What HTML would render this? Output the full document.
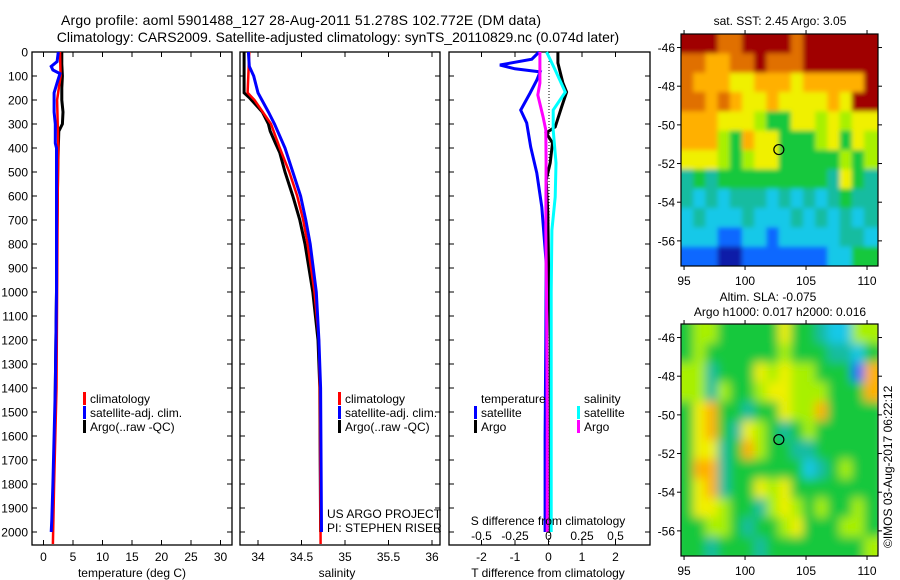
<!DOCTYPE html>
<html><head><meta charset="utf-8"><style>
body{margin:0;background:#fff;}
svg{display:block;font-family:"Liberation Sans",Arial,sans-serif;}
text{fill:#000;}
</style></head><body>
<svg id="fig" width="900" height="580" viewBox="0 0 900 580">
<defs>
<filter id="blurSST" x="-5%" y="-5%" width="110%" height="110%"><feGaussianBlur stdDeviation="2.5"/></filter>
<filter id="blurSLA" x="-5%" y="-5%" width="110%" height="110%"><feGaussianBlur stdDeviation="5"/></filter>
<clipPath id="clipSST"><rect x="681" y="34" width="197" height="232"/></clipPath>
<clipPath id="clipSLA"><rect x="681" y="324" width="197" height="232"/></clipPath>
</defs>
<g>
<text x="61" y="25" font-size="14" textLength="480">Argo profile: aoml 5901488_127 28-Aug-2011 51.278S 102.772E (DM data)</text>
<text x="338" y="42" font-size="14" text-anchor="middle">Climatology: CARS2009. Satellite-adjusted climatology: synTS_20110829.nc (0.074d later)</text>
</g>
<text x="780" y="25" font-size="12" text-anchor="middle">sat. SST: 2.45 Argo: 3.05</text>
<text x="768" y="301" font-size="12" text-anchor="middle">Altim. SLA: -0.075</text>
<text x="780" y="316" font-size="12" text-anchor="middle">Argo h1000: 0.017 h2000: 0.016</text>
<text transform="translate(892,548) rotate(-90)" font-size="12">©IMOS 03-Aug-2017 06:22:12</text>
</svg>
<script>
// ---------- data ----------
const depthTicks = [0,100,200,300,400,500,600,700,800,900,1000,1100,1200,1300,1400,1500,1600,1700,1800,1900,2000];
const tempTicks = [0,5,10,15,20,25,30];
const salTicks = [34,34.5,35,35.5,36];
const tdiffTicks = [-2,-1,0,1,2];
const sdiffTicks = [-0.5,-0.25,0,0.25,0.5];
const sdiffLabels = ["-0.5","-0.25","0","0.25","0.5"];

const tArgoDepth = [0,50,100,150,200,250,300,330,400,500,700,1000,1200,1400,1600,1800,2000];
const tArgoVal   = [3.1,3.1,3.2,3.1,3.1,3.3,3.2,2.6,2.5,2.4,2.3,2.2,2.1,2.0,1.9,1.7,1.5];
const tClimDepth = [0,100,200,300,400,600,1000,1400,1800,2050];
const tClimVal   = [2.8,2.9,2.3,2.4,2.5,2.4,2.3,2.2,1.8,1.6];
const tSatDepth  = [0,40,60,75,90,120,170,250,300,380,400,1000,1400,1800,1950,2000];
const tSatVal    = [2.5,2.3,1.3,1.6,2.8,2.4,1.8,1.8,2.0,2.0,2.2,2.2,2.0,1.6,1.4,1.3];

const sArgoDepth = [0,170,190,250,300,330,380,420,500,600,700,800,1000,1200,1400,2000];
const sArgoVal   = [33.84,33.84,33.9,34.05,34.12,34.14,34.2,34.25,34.31,34.40,34.48,34.54,34.63,34.69,34.71,34.72];
const sClimDepth = [0,170,200,300,400,500,600,700,800,1000,1200,1400,2050];
const sClimVal   = [33.9,33.88,33.96,34.15,34.25,34.36,34.45,34.52,34.57,34.65,34.70,34.71,34.72];
const sSatDepth  = [0,60,100,170,250,300,400,500,600,700,800,1000,1200,1400,2000];
const sSatVal    = [33.89,33.9,33.95,34.0,34.12,34.19,34.31,34.40,34.49,34.55,34.6,34.67,34.70,34.72,34.73];

const dTSatDepth = [0,30,54,70,83,117,171,242,296,396,504,646,880,1200,1600,2000];
const dTSatVal   = [-0.28,-0.5,-1.45,-1.0,-0.25,-0.35,-0.55,-0.83,-0.65,-0.53,-0.35,-0.2,-0.07,-0.08,-0.1,-0.1];
const dTArgoDepth = [0,46,129,167,229,312,337,379,462,533,671,880,1200,1600,2000];
const dTArgoVal   = [0.28,0.28,0.43,0.54,0.39,0.2,-0.07,0.12,0.05,-0.07,-0.02,0.0,0.05,0.05,0.05];
const dSSatDepth = [0,75,167,242,325,462,604,742,1000,1500,2000];
const dSSatVal   = [-0.014,0.05,0.125,0.035,0.035,0.056,0.05,0.025,0.02,0.02,0.02];
const dSArgoDepth = [0,129,179,271,325,462,742,1000,1500,2000];
const dSArgoVal   = [-0.064,-0.064,-0.08,-0.04,-0.02,-0.018,-0.02,-0.015,-0.01,-0.01];

// heatmap grids: rows lat -45.3 .. -57.3 (1 deg), cols lon 94.75 .. 110.9 (1 deg), digit = colour class 0..9
const sstRows = [
"9998899998999999","8877889888999999","8777667776777779","8878766766667699",
"7776665446656566","7775476644456465","6665456644444545","3434444444443643",
"3232333232323433","2322232223232323","2221122122222332","1110011111112244"];
const slaRows = [
"4554444464432255","4544444454443324","5534446565544417","5535445665554447",
"4674434465574444","4674365434544444","4663475443344444","4773444444234544",
"4673446564444444","4665443565454454","4455434456444554","4434443444444445"];
const palette = ["#0a1aa8","#1068ff","#18c8e8","#18bca0","#14c83c","#a8f000","#f0f000","#ffb000","#e07000","#a00000"];
const lonTicks = [95,100,105,110];
const latTicks = [-46,-48,-50,-52,-54,-56];
const argoLon = [102.772];
const argoLat = [-51.278];

// ---------- helpers ----------
const NS = "http://www.w3.org/2000/svg";
const svg = document.getElementById('fig');
function el(tag, attrs, parent){const e=document.createElementNS(NS,tag);for(const k in attrs)e.setAttribute(k,attrs[k]);(parent||svg).appendChild(e);return e;}
const yD = d => 52 + d*0.24;
const PT = 545;

function makePanel(name, x0, x1, xs, ticks, labels, showDepth){
  const g = el('g',{});
  
  
  const box = el('rect',{x:x0,y:52,width:x1-x0,height:PT-52,fill:'none',stroke:'#000','stroke-width':1.3},g);
  
  
  ticks.forEach((t,i)=>{
    const x = xs(t);
    el('line',{x1:x,x2:x,y1:52,y2:57,stroke:'#000'},g);
    el('line',{x1:x,x2:x,y1:PT,y2:PT-5,stroke:'#000'},g);
    if(labels){
      const tx = el('text',{x:x,y:561,'font-size':12,'text-anchor':'middle'},g);
      tx.textContent = labels[i];
      
      
    }
  });
  depthTicks.forEach(d=>{
    const y=yD(d);
    el('line',{x1:x0,x2:x0+5,y1:y,y2:y,stroke:'#000'},g);
    el('line',{x1:x1,x2:x1-5,y1:y,y2:y,stroke:'#000'},g);
    if(showDepth){
      const tx = el('text',{x:28,y:y+4.5,'font-size':12,'text-anchor':'end'},g);
      tx.textContent = d;
      
      
    }
  });
  return g;
}
function line(g, name, xs, depths, vals, color, w){
  const pts = depths.map((d,i)=>xs(vals[i]).toFixed(1)+','+yD(d).toFixed(1)).join(' ');
  const p = el('polyline',{points:pts,fill:'none',stroke:color,'stroke-width':w,'stroke-linejoin':'miter'},g);
  
  
}
function txt(g,name,x,y,s,size,anchor){
  const t = el('text',{x:x,y:y,'font-size':size||12,'text-anchor':anchor||'start'},g);
  t.textContent = s;
  
  
}
function legend(g,name,x,y,color,label){
  const r = el('rect',{x:x,y:y-11,width:3,height:13,fill:color},g);
  
  
  txt(g,name+'-label',x+7,y,label,12);
}

// ---------- temperature panel ----------
const xT = v => 43.5 + v*5.9;
const gT = makePanel('temperature-panel',32,232,xT,tempTicks,tempTicks.map(String),true);
line(gT,'temp-argo-line',xT,tArgoDepth,tArgoVal,'#000',3);
line(gT,'temp-climatology-line',xT,tClimDepth,tClimVal,'#f00',2.5);
line(gT,'temp-satellite-line',xT,tSatDepth,tSatVal,'#00f',3);
legend(gT,'legend-climatology',83,403,'#f00','climatology');
legend(gT,'legend-satellite-adj',83,417,'#00f','satellite-adj. clim.');
legend(gT,'legend-argo',83,431,'#000','Argo(..raw -QC)');
txt(gT,'temperature-axis-title',132,577,'temperature (deg C)',12,'middle');

// ---------- salinity panel ----------
const xS = v => 258 + (v-34)*87;
const gS = makePanel('salinity-panel',240,440,xS,salTicks,salTicks.map(String),false);
line(gS,'sal-argo-line',xS,sArgoDepth,sArgoVal,'#000',3);
line(gS,'sal-climatology-line',xS,sClimDepth,sClimVal,'#f00',2.5);
line(gS,'sal-satellite-line',xS,sSatDepth,sSatVal,'#00f',3);
legend(gS,'legend-climatology-2',338,403,'#f00','climatology');
legend(gS,'legend-satellite-adj-2',338,417,'#00f','satellite-adj. clim.');
legend(gS,'legend-argo-2',338,431,'#000','Argo(..raw -QC)');
txt(gS,'project-label',327,518,'US ARGO PROJECT',12);
txt(gS,'pi-label',327,532,'PI: STEPHEN RISER',12);
txt(gS,'salinity-axis-title',337,577,'salinity',12,'middle');

// ---------- difference panel ----------
const xDT = v => 548.5 + v*33.5;
const xDS = v => 548.5 + v*134;
const gD = makePanel('difference-panel',449,650,xDT,tdiffTicks,tdiffTicks.map(String),false);
const zl = el('line',{x1:549,x2:549,y1:52,y2:PT,stroke:'#000','stroke-dasharray':'1,2'},gD);


line(gD,'dT-satellite-line',xDT,dTSatDepth,dTSatVal,'#00f',3);
line(gD,'dT-argo-line',xDT,dTArgoDepth,dTArgoVal,'#000',3);
line(gD,'dS-satellite-line',xDS,dSSatDepth,dSSatVal,'#0ff',3);
line(gD,'dS-argo-line',xDS,dSArgoDepth,dSArgoVal,'#f0f',3);
txt(gD,'legend-temperature-heading',481,403,'temperature',12);
legend(gD,'legend-t-satellite',474,417,'#00f','satellite');
legend(gD,'legend-t-argo',474,431,'#000','Argo');
txt(gD,'legend-salinity-heading',584,403,'salinity',12);
legend(gD,'legend-s-satellite',577,417,'#0ff','satellite');
legend(gD,'legend-s-argo',577,431,'#f0f','Argo');
txt(gD,'s-diff-axis-title',548,525,'S difference from climatology',12,'middle');
sdiffTicks.forEach((t,i)=>txt(gD,'s-diff-tick-label',xDS(t),540,sdiffLabels[i],12,'middle'));
txt(gD,'t-diff-axis-title',548,577,'T difference from climatology',12,'middle');

// ---------- maps ----------
function makeMap(name, top, bottom, rows, filterId, clipId){
  const g = el('g',{});
  
  
  const L=681,R=878;
  const lon0=94.75, lon1=110.9, lat0=-45.3, lat1=-57.3;
  const xL = lon => L + (lon-lon0)/(lon1-lon0)*(R-L);
  const yL = lat => top + (lat-lat0)/(lat1-lat0)*(bottom-top);
  const clipG = el('g',{'clip-path':'url(#'+clipId+')'},g);
  
  
  const cells = el('g',{filter:'url(#'+filterId+')'},clipG);
  rows.forEach((row,ri)=>{
    for(let ci=0;ci<row.length;ci++){
      const v = +row[ci];
      let xa = xL(lon0+ci), xb = xL(Math.min(lon0+ci+1,lon1));
      let ya = yL(lat0-ri), yb = yL(lat0-ri-1);
      if(ci===0) xa-=8; if(ci===row.length-1) xb+=8;
      if(ri===0) ya-=8; if(ri===rows.length-1) yb+=8;
      const c = el('rect',{x:xa,y:ya,width:xb-xa+0.5,height:yb-ya+0.5,fill:palette[v]},cells);
      
      
    }
  });
  const f = el('rect',{x:L,y:top,width:R-L,height:bottom-top,fill:'none',stroke:'#000','stroke-width':1.2},g);
  
  
  lonTicks.forEach(lo=>{
    const x=xL(lo);
    el('line',{x1:x,x2:x,y1:bottom,y2:bottom+4,stroke:'#000'},g);
    el('line',{x1:x,x2:x,y1:top,y2:top-4,stroke:'#000'},g);
    txt(g,name+'-lon-label',x,bottom+19,String(lo),12,'middle');
  });
  latTicks.forEach(la=>{
    const y=yL(la);
    el('line',{x1:L,x2:L-4,y1:y,y2:y,stroke:'#000'},g);
    el('line',{x1:R,x2:R+4,y1:y,y2:y,stroke:'#000'},g);
    txt(g,name+'-lat-label',675,y+4.5,String(la),12,'end');
  });
  const m = el('circle',{cx:xL(argoLon[0]),cy:yL(argoLat[0]),r:5,fill:'none',stroke:'#000','stroke-width':1.2},g);
  
  
}
makeMap('sst-map',34,266,sstRows,'blurSST','clipSST');
makeMap('sla-map',324,556,slaRows,'blurSLA','clipSLA');
</script>
</body></html>
